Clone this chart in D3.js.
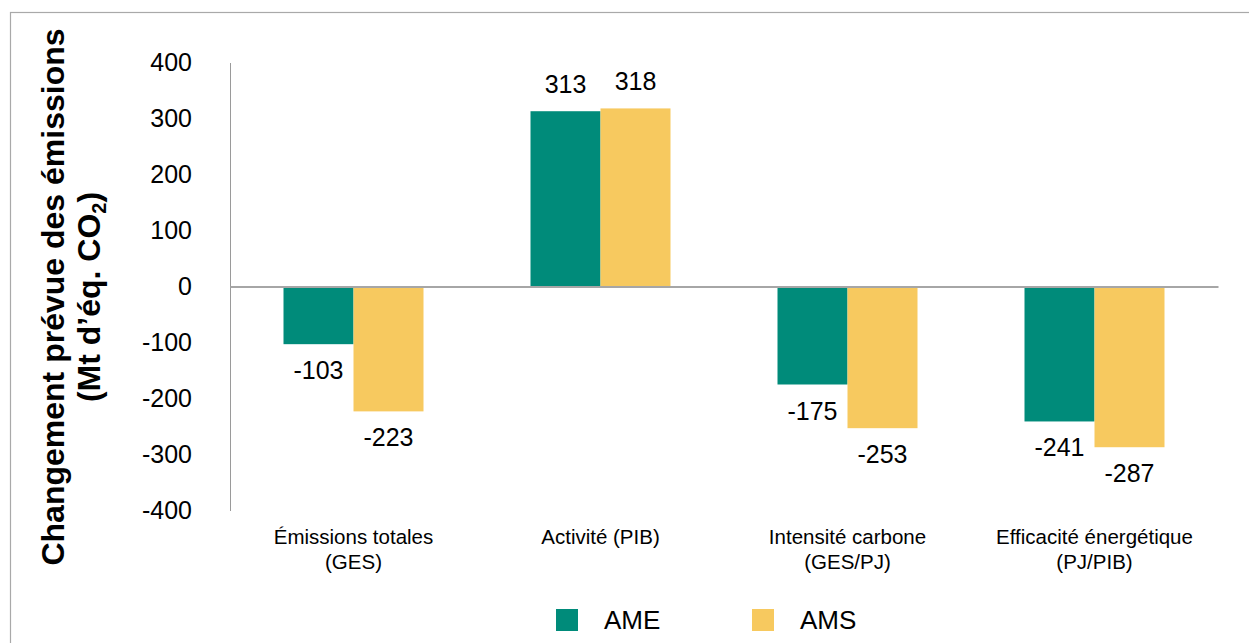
<!DOCTYPE html>
<html>
<head>
<meta charset="utf-8">
<script src="https://cdn.jsdelivr.net/npm/d3@7/dist/d3.min.js"></script>
<style>
  html, body { margin: 0; padding: 0; background: #ffffff; }
  svg { display: block; font-family: "Liberation Sans", Arial, sans-serif; }
</style>
</head>
<body>
<svg id="chart" width="1249" height="643"></svg>
<script>
// ---- data ----
const categories = ["Émissions totales\n(GES)", "Activité (PIB)", "Intensité carbone\n(GES/PJ)", "Efficacité énergétique\n(PJ/PIB)"];
const seriesNames = ["AME", "AMS"];
const ameValues = [-103, 313, -175, -241];
const amsValues = [-223, 318, -253, -287];
const yTickValues = [-400, -300, -200, -100, 0, 100, 200, 300, 400];
const seriesColors = ["#008B7A", "#F7C95F"];

(function () {
const seriesValues = [ameValues, amsValues];
const table = categories.map((c, i) => ({
  category: c,
  values: seriesNames.map((s, j) => ({ series: s, value: seriesValues[j][i] }))
}));

const svg = d3.select("#chart");

// frame
svg.append("rect")
  .attr("x", 10.5).attr("y", 12.5)
  .attr("width", 1300).attr("height", 700)
  .attr("fill", "none").attr("stroke", "#a9a9a9").attr("stroke-width", 1.2);

const plotLeft = 230, plotRight = 1218, plotTop = 62.5, plotBottom = 510.5;

const y = d3.scaleLinear().domain([-400, 400]).range([plotBottom, plotTop]);
const x0 = d3.scaleBand().domain(categories).range([plotLeft, plotRight])
  .paddingInner(0.4332).paddingOuter(0.2166);
const x1 = d3.scaleBand().domain(seriesNames).range([0, x0.bandwidth()]).padding(0);
const color = d3.scaleOrdinal().domain(seriesNames).range(seriesColors);

// y axis
const yAxis = svg.append("g")
  .attr("transform", `translate(${plotLeft},0)`)
  .call(d3.axisLeft(y).tickValues(yTickValues).tickSize(0).tickSizeOuter(0).tickPadding(38).tickFormat(d => String(d)));
yAxis.select(".domain").attr("stroke", "#9a9a9a").attr("stroke-width", 1);
yAxis.selectAll("text")
  .attr("font-size", 25).attr("fill", "#000")
  .attr("font-family", "Liberation Sans, Arial, sans-serif");

// bars
const groups = svg.append("g").selectAll("g")
  .data(table).join("g")
  .attr("transform", d => `translate(${x0(d.category)},0)`);

groups.selectAll("rect")
  .data(d => d.values).join("rect")
  .attr("x", d => x1(d.series))
  .attr("width", x1.bandwidth())
  .attr("y", d => y(Math.max(0, d.value)))
  .attr("height", d => Math.abs(y(d.value) - y(0)))
  .attr("fill", d => color(d.series));

// value labels
groups.selectAll("text.val")
  .data(d => d.values).join("text")
  .attr("class", "val")
  .attr("x", d => x1(d.series) + x1.bandwidth() / 2)
  .attr("y", d => d.value >= 0 ? y(d.value) - 18 : y(d.value) + 35)
  .attr("text-anchor", "middle")
  .attr("font-size", 25)
  .attr("fill", "#000")
  .text(d => String(d.value));

// zero line
const zeroAxis = svg.append("g")
  .attr("transform", `translate(0,${y(0)})`)
  .call(d3.axisBottom(x0).tickSize(0).tickSizeOuter(0).tickFormat(""));
zeroAxis.select(".domain").attr("stroke", "#a6a6a6").attr("stroke-width", 2);

// category labels
const xAxis = svg.append("g")
  .attr("transform", `translate(0,${plotBottom})`)
  .call(d3.axisBottom(x0).tickSize(0).tickSizeOuter(0));
xAxis.select(".domain").remove();
xAxis.selectAll(".tick text").each(function(d) {
  const t = d3.select(this);
  t.text(null).attr("y", 0).attr("dy", null)
    .attr("font-size", 20.5).attr("fill", "#000")
    .attr("font-family", "Liberation Sans, Arial, sans-serif");
  d.split("\n").forEach((line, i) => {
    t.append("tspan").attr("x", 0).attr("y", 33.5 + i * 25).text(line);
  });
});

// y title
const titleG = svg.append("g").attr("font-weight", "bold").attr("font-size", 32).attr("fill", "#000");
titleG.append("text")
  .attr("transform", "translate(64,297) rotate(-90)")
  .attr("text-anchor", "middle")
  .text("Changement prévue des émissions");
const t2 = titleG.append("text")
  .attr("transform", "translate(100,297) rotate(-90)")
  .attr("text-anchor", "middle");
t2.append("tspan").text("(Mt d’éq. CO");
t2.append("tspan").attr("font-size", 20).attr("dy", 6).text("2");
t2.append("tspan").attr("dy", -6).text(")");

// legend
const legend = svg.append("g");
const legendX = [556, 752];
seriesNames.forEach((s, i) => {
  legend.append("rect")
    .attr("x", legendX[i]).attr("y", 609)
    .attr("width", 22).attr("height", 22)
    .attr("fill", color(s));
  legend.append("text")
    .attr("x", legendX[i] + 48).attr("y", 629)
    .attr("font-size", 26).attr("fill", "#000")
    .text(s);
});
})();
</script>
</body>
</html>
